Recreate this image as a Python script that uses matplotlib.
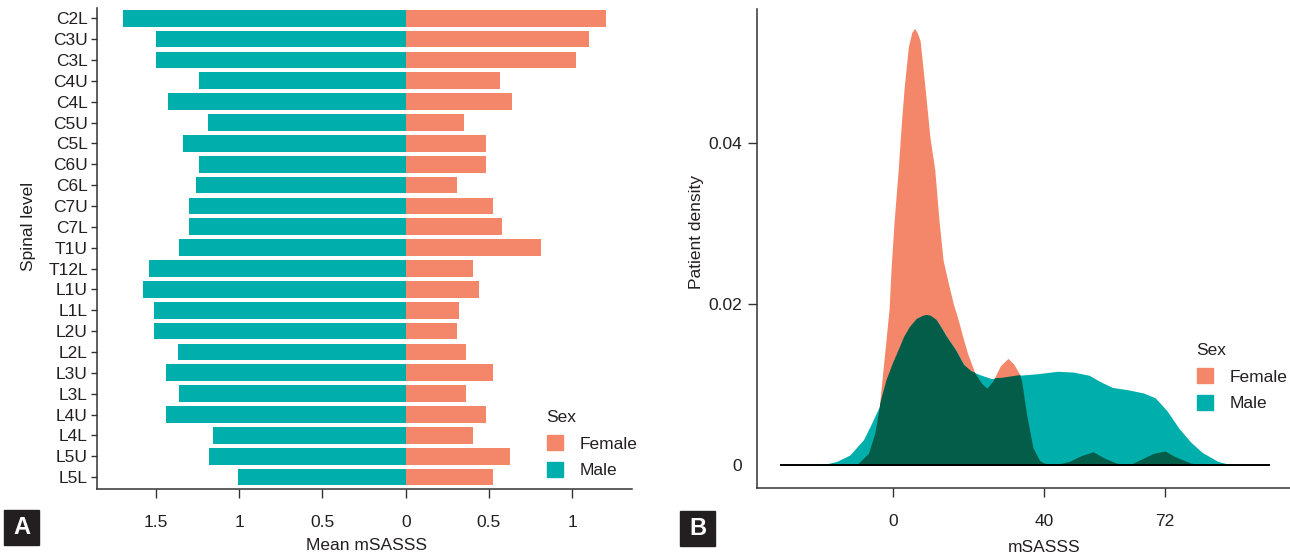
import matplotlib
matplotlib.use("Agg")
import matplotlib.pyplot as plt
import numpy as np
from matplotlib.patches import Rectangle, PathPatch, Patch

# ---------------- data ----------------
levels = ["C2L", "C3U", "C3L", "C4U", "C4L", "C5U", "C5L", "C6U", "C6L", "C7U", "C7L",
          "T1U", "T12L", "L1U", "L1L", "L2U", "L2L", "L3U", "L3L", "L4U", "L4L", "L5U", "L5L"]
male_mean = [1.70, 1.50, 1.50, 1.24, 1.43, 1.19, 1.34, 1.24, 1.26, 1.30, 1.30,
             1.36, 1.54, 1.58, 1.51, 1.51, 1.37, 1.44, 1.36, 1.44, 1.16, 1.18, 1.01]
female_mean = [1.20, 1.10, 1.02, 0.565, 0.637, 0.348, 0.48, 0.48, 0.311, 0.527, 0.577,
               0.811, 0.403, 0.438, 0.323, 0.311, 0.361, 0.522, 0.361, 0.48, 0.403, 0.629, 0.522]

female_x = [-10.5, -9.1, -6.5, -4.8, -3.6, -2.1, -1.0, -0.5, 0.35, 1.4, 2.3, 3.0, 4.1,
            5.0, 5.8, 6.5, 7.2, 8.5, 9.8, 11.1, 12.2, 13.3, 14.9, 16.0, 17.3, 18.5,
            19.8, 21.7, 23.5, 24.9, 26.5, 28.5, 30.5, 32.0, 33.6, 34.1, 35.4, 37.1, 38.9,
            40.0, 43.1, 46.7, 49.8, 53.0, 56.1, 59.2, 62.3, 65.9, 69.0, 72.1, 74.7, 78.9, 83.0]
female_d = [0.0, 0.0003, 0.0015, 0.0040, 0.0073, 0.0143, 0.0195, 0.0243, 0.0305, 0.0367,
            0.0429, 0.0470, 0.0520, 0.0538, 0.0543, 0.0537, 0.0528, 0.0470, 0.0408, 0.0367,
            0.0305, 0.0255, 0.0222, 0.0201, 0.0181, 0.0160, 0.0139, 0.0115, 0.0102, 0.0096,
            0.0105, 0.0124, 0.0133, 0.0126, 0.0113, 0.0105, 0.0064, 0.0022, 0.0006, 0.0003,
            0.0001, 0.0005, 0.0012, 0.0017, 0.0009, 0.0003, 0.0, 0.0008, 0.0015, 0.0018,
            0.0011, 0.0003, 0.0]

male_x = [-25.0, -17.6, -14.9, -11.4, -7.8, -6.1, -3.6, -1.7, 0.1, 1.85, 3.0, 4.5, 6.3,
          8.0, 9.0, 10.0, 11.5, 13.0, 14.1, 16.7, 18.8, 20.8, 22.9, 26.0, 29.1, 33.3,
          38.4, 43.6, 47.8, 52.0, 55.0, 58.1, 62.3, 66.4, 69.5, 72.6, 75.8, 78.9, 82.0,
          86.1, 90.3]
male_d = [0.0, 0.0002, 0.0005, 0.0013, 0.0032, 0.0048, 0.0073, 0.0106, 0.0128, 0.0147,
          0.0160, 0.0172, 0.0182, 0.0186, 0.0187, 0.0186, 0.0181, 0.0170, 0.0161, 0.0143,
          0.0125, 0.0117, 0.0113, 0.0108, 0.0109, 0.0112, 0.0114, 0.0117, 0.0116, 0.0112,
          0.0104, 0.0097, 0.0094, 0.0090, 0.0084, 0.0068, 0.0046, 0.0029, 0.0016, 0.0005,
          0.0]

left_xticks = [-1.5, -1.0, -0.5, 0.0, 0.5, 1.0]
left_xticklabels = ["1.5", "1", "0.5", "0", "0.5", "1"]
right_xticks = [0, 40, 72]
right_yticks = [0.0, 0.02, 0.04]
right_yticklabels = ["0", "0.02", "0.04"]

# ---------------- style ----------------
ORANGE = "#F4866A"
TEAL = "#00AEAB"
DARK = "#035D49"
TXT = "#231F20"
FAM = ["Liberation Sans Narrow", "Liberation Sans", "DejaVu Sans"]
FS = 12.5
plt.rcParams["font.family"] = FAM
plt.rcParams["text.color"] = TXT
plt.rcParams["axes.labelcolor"] = TXT
plt.rcParams["xtick.color"] = "#333333"
plt.rcParams["ytick.color"] = "#333333"
plt.rcParams["xtick.labelcolor"] = TXT
plt.rcParams["ytick.labelcolor"] = TXT

W, H = 1290, 558
fig = plt.figure(figsize=(W / 100, H / 100), dpi=100)


def fr(x0, y0, x1, y1):
    return [x0 / W, 1 - y1 / H, (x1 - x0) / W, (y1 - y0) / H]


# ---------------- panel A ----------------
ax1 = fig.add_axes(fr(97, 8, 632, 489))
pos = np.arange(len(levels))
ax1.barh(pos, -np.array(male_mean), height=0.8, color=TEAL, linewidth=0)
ax1.barh(pos, female_mean, height=0.8, color=ORANGE, linewidth=0)
ax1.set_ylim(22.57, -0.49)
ax1.set_xlim(-1.854, 1.359)
ax1.set_yticks(pos)
ax1.set_yticklabels(levels, fontsize=FS)
ax1.set_xticks(left_xticks)
ax1.set_xticklabels(left_xticklabels, fontsize=FS)
for s in ["top", "right"]:
    ax1.spines[s].set_visible(False)
for s in ["left", "bottom"]:
    ax1.spines[s].set_color("#333333")
    ax1.spines[s].set_linewidth(1.1)
ax1.tick_params(axis="y", length=4.5, width=1, pad=2)
ax1.tick_params(axis="x", length=6.5, width=1, pad=12)
ax1.set_xlabel("Mean mSASSS", fontsize=FS)
ax1.xaxis.set_label_coords((367 - 97) / 535, (489 - 545) / 481)
ax1.xaxis.label.set_va("center")
ax1.set_ylabel("Spinal level", fontsize=FS)
ax1.yaxis.set_label_coords((28 - 97) / 535, (489 - 226) / 481)
ax1.yaxis.label.set_va("center")

leg1 = ax1.legend(handles=[Patch(color=ORANGE, label="Female"), Patch(color=TEAL, label="Male")],
                  title="Sex", frameon=False, loc="upper left",
                  bbox_to_anchor=(538 / W, 1 - 401 / H), bbox_transform=fig.transFigure,
                  fontsize=FS, title_fontsize=FS, handlelength=0.95, handleheight=0.95,
                  handletextpad=0.95, labelspacing=0.6, borderpad=0, alignment="left")

# ---------------- panel B ----------------
ax2 = fig.add_axes(fr(757, 9, 1290, 488))
pf = ax2.fill_between(female_x, 0, female_d, color=ORANGE, linewidth=0)
pm = ax2.fill_between(male_x, 0, male_d, color=TEAL, linewidth=0)
po = ax2.fill_between(female_x, 0, female_d, color=DARK, linewidth=0)
clip = PathPatch(pm.get_paths()[0], transform=ax2.transData)
po.set_clip_path(clip)
ax2.plot([-30, 100], [0, 0], color="black", linewidth=1.4, solid_capstyle="butt")
ax2.set_xlim(-36.0, 105.2)
ax2.set_ylim(-0.0028, 0.0567)
ax2.set_xticks(right_xticks)
ax2.set_xticklabels([str(v) for v in right_xticks], fontsize=FS)
ax2.set_yticks(right_yticks)
ax2.set_yticklabels(right_yticklabels, fontsize=FS)
for s in ["top", "right"]:
    ax2.spines[s].set_visible(False)
for s in ["left", "bottom"]:
    ax2.spines[s].set_color("#333333")
    ax2.spines[s].set_linewidth(1.1)
ax2.tick_params(axis="both", length=6.5, width=1)
ax2.tick_params(axis="x", pad=12)
ax2.tick_params(axis="y", pad=4)
ax2.yaxis.get_major_ticks()[0].tick1line.set_visible(False)
ax2.set_xlabel("mSASSS", fontsize=FS)
ax2.xaxis.set_label_coords((1044 - 757) / 533, (488 - 547) / 479)
ax2.xaxis.label.set_va("center")
ax2.set_ylabel("Patient density", fontsize=FS)
ax2.yaxis.set_label_coords((697 - 757) / 533, (488 - 232) / 479)
ax2.yaxis.label.set_va("center")

leg2 = ax2.legend(handles=[Patch(color=ORANGE, label="Female"), Patch(color=TEAL, label="Male")],
                  title="Sex", frameon=False, loc="upper left",
                  bbox_to_anchor=(1188 / W, 1 - 334 / H), bbox_transform=fig.transFigure,
                  fontsize=FS, title_fontsize=FS, handlelength=0.95, handleheight=0.95,
                  handletextpad=0.95, labelspacing=0.6, borderpad=0, alignment="left")

# ---------------- panel letters ----------------
for lx, ly, letter in [(4, 510, "A"), (680, 511, "B")]:
    fig.patches.append(Rectangle((lx / W, 1 - (ly + 35) / H), 35 / W, 35 / H,
                                 transform=fig.transFigure, color=TXT, zorder=5))
    fig.text((lx + 17.5) / W, 1 - (ly + 17.5) / H, letter, color="white", fontsize=17,
             fontweight="bold", ha="center", va="center", family=["Liberation Sans", "DejaVu Sans"],
             zorder=6)

fig.savefig("out.png", dpi=100)
